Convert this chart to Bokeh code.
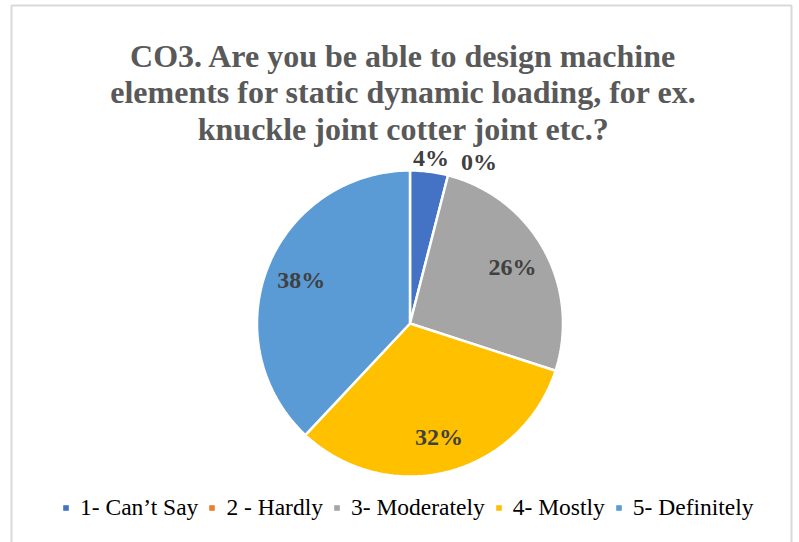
import math
from bokeh.plotting import figure
from bokeh.models import Range1d, Legend, LegendItem
from bokeh.core.properties import value
from bokeh.embed import file_html
from bokeh.resources import INLINE

# ---- data ----
title_lines = [
    "CO3. Are you be able to design machine",
    "elements for static dynamic loading, for ex.",
    "knuckle joint cotter joint etc.?",
]
categories = ["1- Can\u2019t Say", "2 - Hardly", "3- Moderately", "4- Mostly", "5- Definitely"]
counts = [2, 0, 13, 16, 19]
colors = ["#4472C4", "#ED7D31", "#A5A5A5", "#FFC000", "#5B9BD5"]

SERIF = "Liberation Serif"

W, H = 799, 542
p = figure(width=W, height=H, x_range=Range1d(0, W), y_range=Range1d(H, 0),
           x_axis_type=None, y_axis_type=None, output_backend="svg",
           toolbar_location=None, min_border=0)
p.grid.visible = False
p.outline_line_color = None
p.background_fill_color = "white"
p.border_fill_color = "white"

# chart border (open at the bottom, as in the reference crop)
p.line(x=[11, 11, 791, 791], y=[560, 5, 5, 560], line_color="#D9D9D9", line_width=2)

# ---- pie ----
cx, cy, R = 409.5, 323, 153
total = sum(counts)
xs, ys, cols = [], [], []
lab_x, lab_y, lab_t = [], [], []
cum = 0
prev_right = None
for c, col in zip(counts, colors):
    a0 = cum / total * 2 * math.pi
    cum += c
    a1 = cum / total * 2 * math.pi
    mid = (a0 + a1) / 2
    frac = c / total
    txt = f"{round(100 * frac)}%"
    half_w = 0.5 * 24 * (0.5 * (len(txt) - 1) + 1.0)
    if frac < 0.05:
        rl = R + 14
        lx = cx + rl * math.sin(mid)
        ly = cy - rl * math.cos(mid)
        if prev_right is not None and lx - half_w < prev_right + 12:
            lx = prev_right + 12 + half_w
        prev_right = lx + half_w
    else:
        rl = 0.765 * R
        lx = cx + rl * math.sin(mid)
        ly = cy - rl * math.cos(mid)
    lab_x.append(lx); lab_y.append(ly); lab_t.append(txt)
    if c == 0:
        continue
    n = max(2, int(360 * (a1 - a0) / (2 * math.pi)))
    px, py = [cx], [cy]
    for k in range(n + 1):
        t = a0 + (a1 - a0) * k / n
        px.append(cx + R * math.sin(t))
        py.append(cy - R * math.cos(t))
    xs.append(px); ys.append(py); cols.append(col)

p.patches(xs, ys, fill_color=cols, line_color="white", line_width=2.5)

p.text(x=lab_x, y=lab_y, text=lab_t, text_align="center", text_baseline="middle",
       text_font=value(SERIF), text_font_style="bold", text_font_size="24px",
       text_color="#404040")

# ---- title ----
p.text(x=[403] * 3, y=[55, 91.5, 128], text=title_lines, text_align="center",
       text_baseline="alphabetic", text_font=value(SERIF), text_font_style="bold",
       text_font_size="32px", text_color="#595959")

# ---- legend ----
nan = float("nan")
items = []
for cat, col in zip(categories, colors):
    r = p.quad(left=[nan], right=[nan], top=[nan], bottom=[nan],
               fill_color=col, line_color=None)
    items.append(LegendItem(label=cat, renderers=[r]))
legend = Legend(items=items, orientation="horizontal", location=(62, 21),
                glyph_width=7, glyph_height=7, label_standoff=11, spacing=10,
                padding=0, margin=0, border_line_color=None, background_fill_alpha=0,
                label_text_font=SERIF, label_text_font_size="23.5px",
                label_text_color="black")
p.add_layout(legend)

open("out.html", "w").write(file_html(p, INLINE))
